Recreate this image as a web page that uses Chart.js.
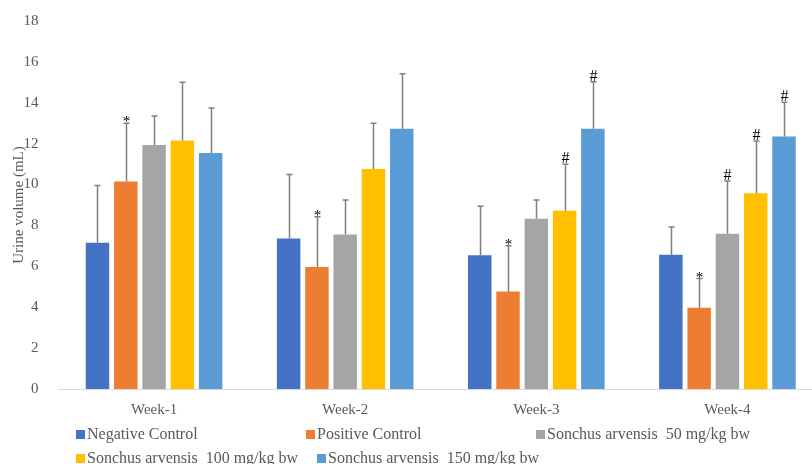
<!DOCTYPE html>
<html>
<head>
<meta charset="utf-8">
<script src="https://cdn.jsdelivr.net/npm/chart.js@4"></script>
<style>
  html, body { margin: 0; padding: 0; background: #fff; overflow: hidden; width: 812px; height: 464px; }
  #wrap { position: relative; width: 812px; height: 464px; overflow: hidden; }
  canvas { position: absolute; left: 0; top: 0; }
  .lg { position: absolute; font-family: "Liberation Serif", serif; font-size: 16px; color: #595959; white-space: pre; line-height: 16px; }
  .sw { position: absolute; width: 9px; height: 9px; }
</style>
</head>
<body>
<div id="wrap">
  <canvas id="c" width="823" height="464" style="width:823px;height:464px"></canvas>
  <div id="legend"></div>
</div>
<script>
const categories = ['Week-1', 'Week-2', 'Week-3', 'Week-4'];
const seriesNames = ['Negative Control', 'Positive Control', 'Sonchus arvensis  50 mg/kg bw', 'Sonchus arvensis  100 mg/kg bw', 'Sonchus arvensis  150 mg/kg bw'];
const negative = [7.15, 7.36, 6.54, 6.57];
const positive = [10.15, 5.97, 4.77, 3.97];
const sonchus50 = [11.93, 7.56, 8.33, 7.59];
const sonchus100 = [12.16, 10.76, 8.72, 9.57];
const sonchus150 = [11.54, 12.73, 12.73, 12.35];
const negativeSD = [2.80, 3.13, 2.40, 1.36];
const positiveSD = [2.85, 2.46, 2.24, 1.43];
const sonchus50SD = [1.42, 1.68, 0.92, 2.59];
const sonchus100SD = [2.84, 2.24, 2.27, 2.56];
const sonchus150SD = [2.20, 2.69, 2.30, 1.67];
const negativeMarks = ['', '', '', ''];
const positiveMarks = ['*', '*', '*', '*'];
const sonchus50Marks = ['', '', '', '#'];
const sonchus100Marks = ['', '', '#', '#'];
const sonchus150Marks = ['', '', '#', '#'];
const yTicks = [0, 2, 4, 6, 8, 10, 12, 14, 16, 18];
const colors = ['#4472C4', '#ED7D31', '#A5A5A5', '#FFC000', '#5B9BD5'];

const values = [negative, positive, sonchus50, sonchus100, sonchus150];
const sds = [negativeSD, positiveSD, sonchus50SD, sonchus100SD, sonchus150SD];
const marks = [negativeMarks, positiveMarks, sonchus50Marks, sonchus100Marks, sonchus150Marks];
const FONT = '"Liberation Serif", serif';

const errorBars = {
  id: 'errorBars',
  afterDatasetsDraw(chart) {
    const ctx = chart.ctx;
    const ys = chart.scales.y;
    ctx.save();
    chart.data.datasets.forEach((ds, i) => {
      const meta = chart.getDatasetMeta(i);
      meta.data.forEach((el, j) => {
        const top = ys.getPixelForValue(values[i][j] + sds[i][j]);
        const x = Math.round(el.x) + 0.5;
        ctx.strokeStyle = '#7F7F7F';
        ctx.lineWidth = 1.5;
        ctx.beginPath();
        ctx.moveTo(x, el.y);
        ctx.lineTo(x, top);
        ctx.moveTo(x - 3, top);
        ctx.lineTo(x + 3, top);
        ctx.stroke();
        const m = marks[i][j];
        if (m) {
          ctx.fillStyle = '#000';
          ctx.textAlign = 'center';
          ctx.textBaseline = 'alphabetic';
          ctx.font = (m === '*' ? '15px ' : '16px ') + FONT;
          ctx.fillText(m, x, m === '*' ? top + 3 : top - 1);
        }
      });
    });
    ctx.restore();
  }
};

new Chart(document.getElementById('c'), {
  type: 'bar',
  data: {
    labels: categories,
    datasets: values.map((v, i) => ({
      label: seriesNames[i],
      data: v,
      backgroundColor: colors[i],
      borderWidth: 0,
      categoryPercentage: 0.74,
      barPercentage: 0.83
    }))
  },
  options: {
    responsive: false,
    animation: false,
    layout: { padding: { top: 12, right: 0, bottom: 41, left: 10 } },
    plugins: { legend: { display: false }, tooltip: { enabled: false } },
    scales: {
      x: {
        grid: { display: false },
        border: { display: true, color: '#D9D9D9', width: 1 },
        ticks: { color: '#595959', font: { family: FONT, size: 15 }, padding: 4 }
      },
      y: {
        min: 0, max: 18,
        afterBuildTicks(scale) { scale.ticks = yTicks.map(v => ({ value: v })); },
        afterFit(scale) { scale.width = 48.5; },
        grid: { display: false },
        border: { display: false },
        ticks: { color: '#595959', font: { family: FONT, size: 15 }, padding: 12 },
        title: { display: true, text: 'Urine volume (mL)', color: '#595959', font: { family: FONT, size: 15 }, padding: 0 }
      }
    }
  },
  plugins: [errorBars]
});

const legendPos = [[76, 430], [306, 430], [536, 430], [76, 454], [317, 454]];
const lg = document.getElementById('legend');
seriesNames.forEach((n, i) => {
  const sw = document.createElement('div');
  sw.className = 'sw';
  sw.style.left = legendPos[i][0] + 'px';
  sw.style.top = legendPos[i][1] + 'px';
  sw.style.background = colors[i];
  lg.appendChild(sw);
  const t = document.createElement('div');
  t.className = 'lg';
  t.textContent = n;
  t.style.left = (legendPos[i][0] + 11) + 'px';
  t.style.top = (legendPos[i][1] - 4) + 'px';
  lg.appendChild(t);
});
</script>
</body>
</html>
